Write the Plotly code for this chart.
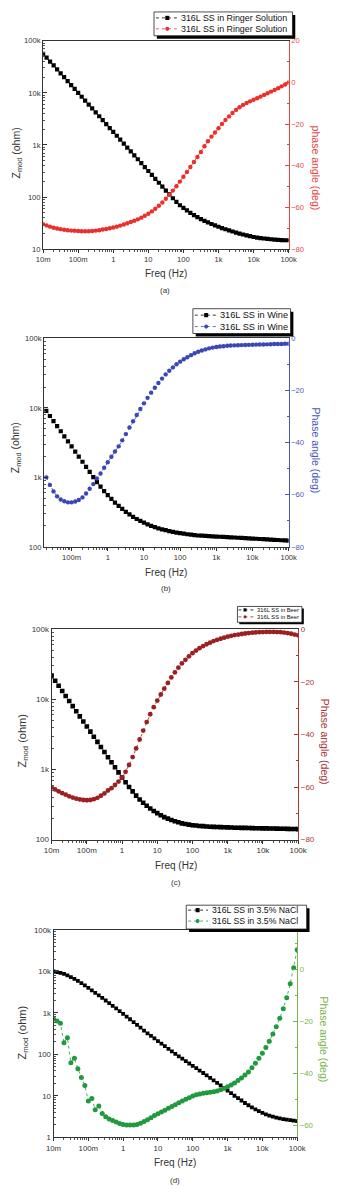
import plotly.graph_objects as go

W, H = 347, 1200

# ---------------- data ----------------
FREQ = [0.01, 0.0126, 0.0158, 0.02, 0.0251, 0.0316, 0.0398, 0.0501, 0.0631, 0.0794,
        0.1, 0.126, 0.158, 0.2, 0.251, 0.316, 0.398, 0.501, 0.631, 0.794,
        1, 1.26, 1.58, 2, 2.51, 3.16, 3.98, 5.01, 6.31, 7.94,
        10, 12.6, 15.8, 20, 25.1, 31.6, 39.8, 50.1, 63.1, 79.4,
        100, 126, 158, 200, 251, 316, 398, 501, 631, 794,
        1000, 1260, 1580, 2000, 2510, 3160, 3980, 5010, 6310, 7940,
        10000, 12600, 15800, 20000, 25100, 31600, 39800, 50100, 63100, 79400, 100000]
FREQ_WINE = FREQ[3:]

Z_RINGER = [56200, 47300, 39800, 33500, 28200, 23700, 20000, 16800, 14100, 11900,
            10000, 8410, 7080, 5960, 5010, 4220, 3550, 2990, 2510, 2110,
            1780, 1500, 1260, 1060, 891, 750, 631, 531, 447, 376,
            316, 266, 224, 188, 158, 133, 112, 94.8, 80.5, 69.5,
            61.7, 55.3, 49.8, 45.1, 41.1, 37.8, 35.0, 32.6, 30.4, 28.6,
            26.9, 25.4, 24.1, 22.9, 21.8, 20.8, 19.9, 19.1, 18.3, 17.7,
            17.1, 16.7, 16.3, 16.0, 15.7, 15.5, 15.2, 15.1, 14.9, 14.8, 14.8]
PH_RINGER = [-68.0, -68.6, -69.2, -69.7, -70.1, -70.4, -70.7, -70.9, -71.1, -71.2,
             -71.3, -71.4, -71.4, -71.4, -71.3, -71.1, -70.9, -70.6, -70.3, -70.0,
             -69.6, -69.2, -68.7, -68.2, -67.6, -67.0, -66.4, -65.7, -64.9, -64.0,
             -63.0, -61.9, -60.6, -59.2, -57.6, -55.8, -53.9, -51.9, -49.8, -47.6,
             -45.3, -43.0, -40.6, -38.2, -35.8, -33.4, -30.6, -28.2, -26.0, -24.0,
             -22.0, -19.9, -18.0, -16.3, -14.7, -13.2, -11.9, -10.8, -9.9, -9.1,
             -8.3, -7.6, -6.8, -6.0, -5.2, -4.4, -3.6, -2.8, -1.9, -1.0, 0.0]

Z_WINE = [9080, 7660, 6470, 5470, 4620, 3900, 3300,
          2790, 2350, 1990, 1680, 1420, 1200, 1010, 855, 735, 637,
          556, 490, 435, 389, 352, 320, 293, 271, 252, 237,
          223, 211, 201, 193, 185, 179, 174, 169, 165, 161,
          158, 155, 152, 150, 148, 146, 145, 144, 143, 142,
          141, 140, 139, 138, 137, 136.5, 135.5, 134.6, 133.7, 132.7,
          131.8, 130.9, 130.0, 129.1, 128.2, 127.4, 126.5, 125.6, 124.7, 123.9, 123.0]
PH_WINE = [-53.3, -56.2, -58.7, -60.6, -61.8, -62.5, -62.9,
           -62.9, -62.6, -62.0, -61.0, -59.5, -57.7, -55.9, -53.7, -51.8, -49.6,
           -47.5, -45.4, -43.4, -41.4, -39.1, -36.7, -34.2, -31.8, -29.4, -27.1,
           -24.9, -22.8, -20.8, -18.9, -17.1, -15.4, -13.8, -12.4, -11.1, -9.9,
           -8.9, -8.0, -7.2, -6.4, -5.7, -5.1, -4.6, -4.2, -3.8, -3.5,
           -3.3, -3.1, -3.0, -2.8, -2.7, -2.65, -2.6, -2.55, -2.5, -2.45,
           -2.4, -2.35, -2.3, -2.3, -2.25, -2.2, -2.15, -2.1, -2.1, -2.05, -2.0]

Z_BEER = [21900, 18500, 15700, 13200, 11200, 9480, 8020, 6780, 5730, 4850,
          4100, 3470, 2940, 2480, 2100, 1780, 1500, 1270, 1080, 912,
          771, 658, 565, 488, 425, 374, 336, 304, 279, 257,
          239, 223, 210, 200, 191, 183, 177, 171, 167, 164,
          161, 159, 157, 156, 154, 153, 152.4, 151.7, 151.0, 150.3,
          149.6, 148.9, 148.3, 147.9, 147.6, 147.2, 146.6, 146.2, 145.9, 145.5,
          145.2, 144.9, 144.5, 144.2, 143.9, 143.5, 142.9, 142.6, 142.2, 141.9, 141.3]
PH_BEER = [-60.1, -60.9, -61.6, -62.3, -62.9, -63.5, -64.0, -64.4, -64.7, -64.9,
           -65.0, -64.9, -64.6, -64.1, -63.3, -62.4, -61.3, -60.4, -59.2, -57.9,
           -56.3, -54.2, -51.6, -48.6, -45.3, -41.9, -38.5, -35.3, -32.3, -29.6,
           -27.1, -24.8, -22.6, -20.4, -18.3, -16.4, -14.6, -13.0, -11.6, -10.3,
           -9.1, -8.1, -7.2, -6.4, -5.7, -5.1, -4.5, -4.0, -3.6, -3.2,
           -2.8, -2.5, -2.2, -2.0, -1.8, -1.6, -1.45, -1.3, -1.2, -1.1,
           -1.05, -1.0, -1.0, -1.0, -1.05, -1.1, -1.25, -1.45, -1.7, -2.0, -2.3]

Z_NACL = [10000, 9660, 9230, 8710, 8040, 7330, 6610, 5920, 5270, 4620,
          4030, 3510, 3050, 2650, 2300, 2000, 1730, 1490, 1290, 1110,
          955, 820, 705, 605, 519, 445, 376, 324, 281, 243,
          210, 182, 158, 137, 119, 103, 90.2, 79.1, 69.2, 60.5,
          53.1, 46.6, 40.7, 35.7, 31.3, 27.4, 23.8, 20.7, 18.0, 15.6,
          13.5, 11.7, 10.1, 8.91, 7.76, 6.76, 5.96, 5.28, 4.73, 4.29,
          3.92, 3.61, 3.37, 3.18, 3.01, 2.88, 2.77, 2.68, 2.60, 2.53, 2.47]
PH_NACL = [-19.1, -19.9, -20.8, -28.3, -26.4, -36.0, -34.3, -38.3, -41.7, -44.7,
           -50.7, -49.7, -54.1, -52.6, -55.5, -56.7, -57.6, -58.2, -58.8, -59.3,
           -59.7, -59.9, -59.9, -59.9, -59.7, -59.2, -58.6, -57.9, -57.1, -56.3,
           -55.6, -54.9, -54.2, -53.5, -52.8, -52.1, -51.4, -50.7, -50.0, -49.4,
           -48.8, -48.3, -48.0, -47.7, -47.5, -47.3, -47.1, -46.8, -46.4, -45.9,
           -45.2, -44.5, -43.8, -42.8, -41.8, -40.7, -39.5, -37.9, -36.2, -34.3,
           -32.3, -30.1, -27.7, -24.9, -22.1, -18.9, -15.2, -11.0, -5.6, 0.5, 7.5]

FREQ_TICKS = [0.01, 0.1, 1, 10, 100, 1000, 10000, 100000]
FREQ_LABELS = ["10m", "100m", "1", "10", "100", "1k", "10k", "100k"]
Z_TICKS = [1, 10, 100, 1000, 10000, 100000]
Z_LABELS = ["1", "10", "100", "1k", "10k", "100k"]

FONT = "Liberation Sans, Arial, sans-serif"
DARK = "#333333"

panels = [
    dict(freq=FREQ, z=Z_RINGER, ph=PH_RINGER, name="316L SS in Ringer Solution",
         box=(37, 296, 37, 247), xr=[-2, 5], yr=[1, 5], pr=[-80, 20], pticks=[20, 0, -20, -40, -60, -80],
         col="#e8302c", acol="#e8463f", ptitle="phase angle (deg)", cap="(a)",
         leg=dict(box=(154, 300, 8, 32), rows=(14, 25), sym=(156, 179, 168), tx=180, fs=8.9, ms=4.2, shadow=3),
         ms=4.2, ps=4.4, tfs=7.6, lt=(9, 150), rt=(325, 165), ls=10.5, rs=10.5,
         ft=(167, 272), capy=289, capx=166),
    dict(freq=FREQ_WINE, z=Z_WINE, ph=PH_WINE, name="316L SS in Wine",
         box=(38, 296, 337, 547), xr=[-1.762, 5], yr=[2, 5], pr=[-80, 0], pticks=[0, -20, -40, -60, -80],
         col="#3b47b3", acol="#4c57ba", ptitle="Phase angle (deg)", cap="(b)",
         leg=dict(box=(195, 298, 307, 332), rows=(313.5, 325), sym=(197, 220, 209), tx=222, fs=9.2, ms=4.2, shadow=3),
         ms=4.2, ps=4.4, tfs=7.6, lt=(8, 447), rt=(325, 450), ls=10.5, rs=10.5,
         ft=(167, 573), capy=589, capx=167),
    dict(freq=FREQ, z=Z_BEER, ph=PH_BEER, name="316L SS in Beer",
         box=(46, 306, 630, 842), xr=[-2, 5], yr=[2, 5], pr=[-80, 0], pticks=[0, -20, -40, -60, -80],
         col="#9c1f22", acol="#a8383a", ptitle="Phase angle (deg)", cap="(c)",
         leg=dict(box=(242, 310, 607, 623), rows=(610.5, 617.5), sym=(243, 259, 250), tx=261, fs=5.8, ms=3.2, shadow=2),
         ms=4.6, ps=4.8, tfs=8.0, lt=(16, 743), rt=(334, 743), ls=11, rs=10.5,
         ft=(177, 868), capy=885, capx=177),
    dict(freq=FREQ, z=Z_NACL, ph=PH_NACL, name="316L SS in 3.5% NaCl",
         box=(48, 305, 933, 1142), xr=[-2, 5], yr=[0, 5], pr=[-64.7, 15.06], pticks=[0, -20, -40, -60],
         col="#1f9a3e", acol="#78b54e", ptitle="Phase angle (deg)", cap="(d)",
         leg=dict(box=(188, 315, 908, 932), rows=(913, 924), sym=(190, 211, 200), tx=213, fs=8.7, ms=4.2, shadow=3),
         ms=3.8, ps=5.0, tfs=7.8, lt=(16, 1037), rt=(333, 1043), ls=11, rs=10.5,
         ft=(176, 1167), capy=1185, capx=176),
]

fig = go.Figure()
layout = dict(width=W, height=H, margin=dict(l=0, r=0, t=0, b=0),
              paper_bgcolor="white", plot_bgcolor="white", showlegend=False,
              font=dict(family=FONT, color=DARK))
annotations = []
shapes = []


def px(x):
    return x / W


def py(y):
    return 1 - y / H


minor_x = [k * 10 ** e for e in range(-2, 5) for k in range(2, 10)]
minor_z = [k * 10 ** e for e in range(0, 5) for k in range(2, 10)]

for i, p in enumerate(panels):
    n = i + 1
    xs = "" if n == 1 else str(n)
    yl = "" if n == 1 else str(2 * n - 1)
    yr_ = str(2 * n)
    l, r, t, b = p["box"]
    xd = [px(l), px(r)]
    yd = [py(b), py(t)]

    fig.add_trace(go.Scatter(
        x=p["freq"], y=p["z"], name=p["name"], mode="lines+markers",
        line=dict(color="#111111", width=0.8, dash="dot"),
        marker=dict(symbol="square", size=p["ms"], color="#000000"),
        xaxis="x" + xs, yaxis="y" + yl))
    fig.add_trace(go.Scatter(
        x=p["freq"], y=p["ph"], name=p["name"], mode="lines+markers",
        line=dict(color=p["col"], width=0.8, dash="dot"),
        marker=dict(symbol="circle", size=p["ps"], color=p["col"]),
        xaxis="x" + xs, yaxis="y" + yr_))

    tickfont = dict(size=p["tfs"], color=DARK, family=FONT)
    layout["xaxis" + xs] = dict(
        domain=xd, anchor="y" + yl, type="log", range=p["xr"],
        tickvals=FREQ_TICKS, ticktext=FREQ_LABELS, tickfont=tickfont,
        ticks="outside", ticklen=3, tickcolor=DARK,
        minor=dict(tickvals=minor_x, ticks="outside", ticklen=2, tickcolor="#555555"),
        showline=True, linecolor=DARK, linewidth=1, mirror=True,
        showgrid=False, zeroline=False)
    layout["yaxis" + yl] = dict(
        domain=yd, anchor="x" + xs, type="log", range=p["yr"],
        tickvals=Z_TICKS, ticktext=Z_LABELS, tickfont=tickfont,
        ticks="inside", ticklen=4, tickcolor=DARK,
        minor=dict(tickvals=minor_z, ticks="inside", ticklen=2, tickcolor="#555555"),
        showline=True, linecolor=DARK, linewidth=1,
        showgrid=False, zeroline=False)
    layout["yaxis" + yr_] = dict(
        overlaying="y" + yl, anchor="x" + xs, side="right", range=p["pr"],
        tickvals=p["pticks"], tickfont=dict(size=p["tfs"], color=p["acol"], family=FONT),
        ticks="inside", ticklen=4, tickcolor=p["acol"],
        minor=dict(dtick=10, ticks="inside", ticklen=2, tickcolor=p["acol"]),
        showline=True, linecolor=p["acol"], linewidth=1,
        showgrid=False, zeroline=False)

    # axis titles and captions
    annotations.append(dict(x=px(p["lt"][0]), y=py(p["lt"][1]), xref="paper", yref="paper",
                            xanchor="center", yanchor="middle",
                            text="Z<sub>mod</sub> (ohm)", textangle=-90, showarrow=False,
                            font=dict(size=p["ls"], color=DARK, family=FONT)))
    annotations.append(dict(x=px(p["rt"][0]), y=py(p["rt"][1]), xref="paper", yref="paper",
                            xanchor="center", yanchor="middle",
                            text=p["ptitle"], textangle=90, showarrow=False,
                            font=dict(size=p["rs"], color=p["acol"], family=FONT)))
    annotations.append(dict(x=px(p["ft"][0]), y=py(p["ft"][1]), xref="paper", yref="paper",
                            xanchor="center", yanchor="middle",
                            text="Freq (Hz)", showarrow=False,
                            font=dict(size=10, color=DARK, family=FONT)))
    annotations.append(dict(x=px(p["capx"]), y=py(p["capy"]), xref="paper", yref="paper",
                            xanchor="center", yanchor="middle",
                            text=p["cap"], showarrow=False,
                            font=dict(size=8, color=DARK, family=FONT)))

    # legend box (drawn with shapes so it matches the reference size)
    lg = p["leg"]
    x0, x1, y0, y1 = lg["box"]
    s = lg["shadow"]
    shapes.append(dict(type="rect", xref="paper", yref="paper", layer="above",
                       x0=px(x0 + s), x1=px(x1 + s), y0=py(y0 + s), y1=py(y1 + s),
                       fillcolor="#000000", line=dict(width=0)))
    shapes.append(dict(type="rect", xref="paper", yref="paper", layer="above",
                       x0=px(x0), x1=px(x1), y0=py(y0), y1=py(y1),
                       fillcolor="white", line=dict(color="#222222", width=0.8)))
    sx0, sx1, sxm = lg["sym"]
    m = lg["ms"] / 2
    for row, (colr, sym) in zip(lg["rows"], [("#000000", "square"), (p["col"], "circle")]):
        shapes.append(dict(type="line", xref="paper", yref="paper", layer="above",
                           x0=px(sx0), x1=px(sx1), y0=py(row), y1=py(row),
                           line=dict(color=colr, width=0.8, dash="dot")))
        shapes.append(dict(type="rect" if sym == "square" else "circle",
                           xref="paper", yref="paper", layer="above",
                           x0=px(sxm - m), x1=px(sxm + m), y0=py(row + m), y1=py(row - m),
                           fillcolor=colr, line=dict(width=0)))
        annotations.append(dict(x=px(lg["tx"]), y=py(row), xref="paper", yref="paper",
                                xanchor="left", yanchor="middle", text=p["name"], showarrow=False,
                                font=dict(size=lg["fs"], color="#111111", family=FONT)))

layout["annotations"] = annotations
layout["shapes"] = shapes
fig.update_layout(**layout)
fig.write_html("out.html")
